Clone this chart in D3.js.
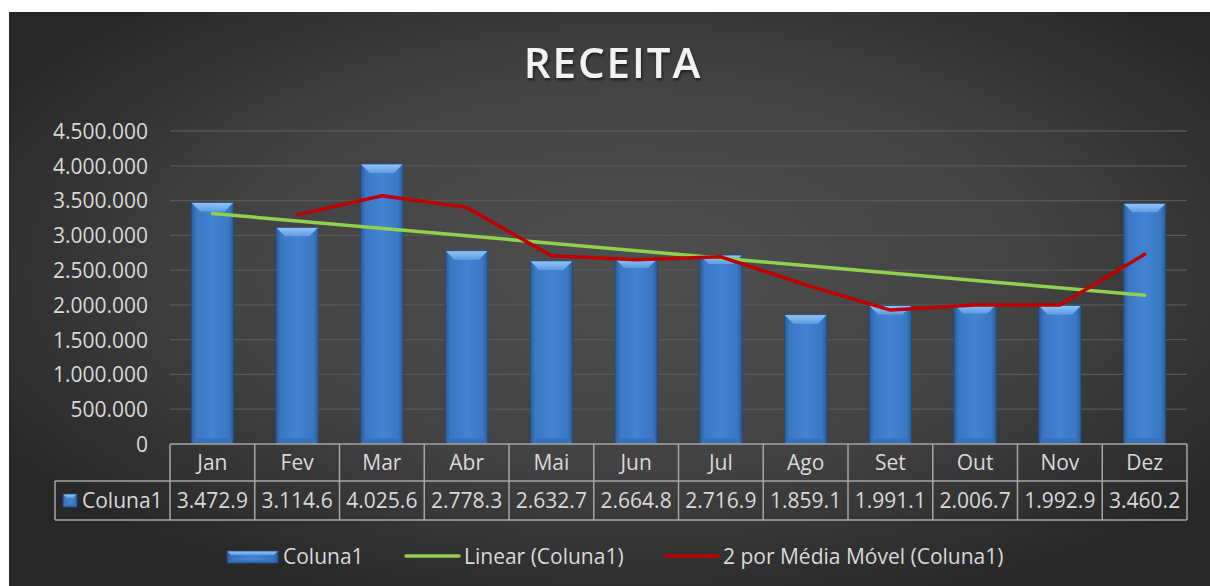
<!DOCTYPE html>
<html><head><meta charset="utf-8">
<script src="https://cdn.jsdelivr.net/npm/d3@7"></script>
<style>html,body{margin:0;padding:0;background:#fff;}svg{display:block;}</style>
</head><body>
<svg id="chart" width="1210" height="586"></svg>
<script>
// ---- data ----
const months = ["Jan","Fev","Mar","Abr","Mai","Jun","Jul","Ago","Set","Out","Nov","Dez"];
const values = [3472900, 3114600, 4025600, 2778300, 2632700, 2664800, 2716900, 1859100, 1991100, 2006700, 1992900, 3460200];
const tableLabels = ["3.472.9","3.114.6","4.025.6","2.778.3","2.632.7","2.664.8","2.716.9","1.859.1","1.991.1","2.006.7","1.992.9","3.460.2"];
const maMonths = ["Fev","Mar","Abr","Mai","Jun","Jul","Ago","Set","Out","Nov","Dez"];
const maValues = [3293750, 3570100, 3401950, 2705500, 2648750, 2690850, 2288000, 1925100, 1998900, 1999800, 2726550];
const trendMonths = ["Jan","Dez"];
const trendValues = [3314000, 2138000];
const yTicks = [0, 500000, 1000000, 1500000, 2000000, 2500000, 3000000, 3500000, 4000000, 4500000];
const title = "RECEITA";
const seriesName = "Coluna1";
const legendNames = ["Coluna1", "Linear (Coluna1)", "2 por Média Móvel (Coluna1)"];

(function(){
// ---- layout ----
const svg = d3.select("#chart");
const FONT = "'Open Sans', 'Segoe UI', sans-serif";
const textCol = "#d9d9d9";
const pL = 170, pR = 1187, pT = 131, pB = 444;
const rowMid = 481, rowBot = 520, tableLeft = 55;

const defs = svg.append("defs");
const bg = defs.append("radialGradient").attr("id","bg")
  .attr("cx","52%").attr("cy","45%").attr("r","62%");
bg.append("stop").attr("offset","0%").attr("stop-color","#4f4f4f");
bg.append("stop").attr("offset","55%").attr("stop-color","#424242");
bg.append("stop").attr("offset","100%").attr("stop-color","#272727");

const barG = defs.append("linearGradient").attr("id","barBody").attr("x1","0").attr("x2","1").attr("y1","0").attr("y2","0");
[["0%","#2b5a98"],["12%","#3b78c4"],["50%","#4283d2"],["88%","#3b78c4"],["100%","#2b5a98"]]
  .forEach(([o,c])=>barG.append("stop").attr("offset",o).attr("stop-color",c));
const topG = defs.append("linearGradient").attr("id","barTop").attr("x1","0").attr("x2","0").attr("y1","0").attr("y2","1");
topG.append("stop").attr("offset","0%").attr("stop-color","#94c6f6");
topG.append("stop").attr("offset","100%").attr("stop-color","#5c9de2");

const shadow = defs.append("filter").attr("id","tshadow").attr("x","-10%").attr("y","-10%").attr("width","120%").attr("height","140%");
shadow.append("feDropShadow").attr("dx","1").attr("dy","2").attr("stdDeviation","1.5").attr("flood-color","#000").attr("flood-opacity","0.6");

svg.append("rect").attr("x",9).attr("y",12).attr("width",1201).attr("height",574).attr("fill","url(#bg)");

const x = d3.scaleBand().domain(months).range([pL, pR]).paddingInner(0.5).paddingOuter(0.25);
const xc = m => x(m) + x.bandwidth()/2;
const y = d3.scaleLinear().domain([0, 4500000]).range([pB, pT]);

// title
svg.append("text").attr("x", 613).attr("y", 78).attr("text-anchor","middle")
  .attr("font-family", FONT).attr("font-size", 42).attr("font-weight", 600)
  .attr("letter-spacing", 2).attr("fill","#f2f2f2").attr("filter","url(#tshadow)").text(title);

// gridlines
svg.append("g").selectAll("line").data(yTicks.filter(d=>d>0)).join("line")
  .attr("x1", pL).attr("x2", pR).attr("y1", d=>y(d)).attr("y2", d=>y(d))
  .attr("stroke","#575757").attr("stroke-width",1.3);

// y axis via d3 axis
const fmt = v => d3.format(",")(v).replace(/,/g, ".");
const yAxis = svg.append("g").attr("transform", `translate(${pL - 22},0)`)
  .call(d3.axisLeft(y).tickValues(yTicks).tickFormat(fmt).tickSize(0).tickPadding(0));
yAxis.select(".domain").remove();
yAxis.selectAll("text").attr("font-family", FONT).attr("font-size", 21).attr("fill", textCol).attr("dy","0.35em");

// bars
function drawBar(g, bx, by, bw, bh, b) {
  g.append("rect").attr("x",bx).attr("y",by).attr("width",bw).attr("height",bh).attr("fill","url(#barBody)");
  const bb = Math.min(b, bh/2);
  g.append("path").attr("d", `M${bx},${by}L${bx+bw},${by}L${bx+bw-bb},${by+bb}L${bx+bb},${by+bb}Z`).attr("fill","url(#barTop)");
  g.append("path").attr("d", `M${bx},${by+bh}L${bx+bw},${by+bh}L${bx+bw-bb*0.6},${by+bh-bb*0.6}L${bx+bb*0.6},${by+bh-bb*0.6}Z`).attr("fill","#3670b8");
  g.append("rect").attr("x",bx).attr("y",by).attr("width",bw).attr("height",bh).attr("fill","none").attr("stroke","#24497c").attr("stroke-width",0.8);
}
const bars = svg.append("g");
months.forEach((m,i)=>{
  const g = bars.append("g");
  drawBar(g, x(m), y(values[i]), x.bandwidth(), y(0)-y(values[i]), 9);
});

// trend line
svg.append("path").datum(trendMonths.map((m,i)=>[xc(m), y(trendValues[i])]))
  .attr("d", d3.line()).attr("fill","none").attr("stroke","#92d050").attr("stroke-width",3.5).attr("stroke-linecap","round");
// moving average
svg.append("path").datum(maMonths.map((m,i)=>[xc(m), y(maValues[i])]))
  .attr("d", d3.line()).attr("fill","none").attr("stroke","#c00000").attr("stroke-width",3.5)
  .attr("stroke-linecap","round").attr("stroke-linejoin","round");

// data table
const tbl = svg.append("g");
const lc = "#a6a6a6";
const colEdges = months.map(m => x(m) - x.step()*x.paddingInner()/2).concat([pR]);
colEdges[0] = pL;
tbl.append("line").attr("x1",pL).attr("x2",pR).attr("y1",pB).attr("y2",pB).attr("stroke",lc).attr("stroke-width",1.5);
[rowMid,rowBot].forEach(yy=>tbl.append("line").attr("x1",tableLeft).attr("x2",pR).attr("y1",yy).attr("y2",yy).attr("stroke",lc).attr("stroke-width",1.5));
colEdges.forEach(xx=>tbl.append("line").attr("x1",xx).attr("x2",xx).attr("y1",pB).attr("y2",rowBot).attr("stroke",lc).attr("stroke-width",1.5));
tbl.append("line").attr("x1",tableLeft).attr("x2",tableLeft).attr("y1",rowMid).attr("y2",rowBot).attr("stroke",lc).attr("stroke-width",1.5);

tbl.selectAll("text.m").data(months).join("text").attr("class","m")
  .attr("x", d=>xc(d)).attr("y", (pB+rowMid)/2).attr("dy","0.35em").attr("text-anchor","middle")
  .attr("font-family",FONT).attr("font-size",21).attr("fill",textCol).text(d=>d);
tbl.selectAll("text.v").data(months).join("text").attr("class","v")
  .attr("x", d=>xc(d)).attr("y", (rowMid+rowBot)/2).attr("dy","0.35em").attr("text-anchor","middle")
  .attr("font-family",FONT).attr("font-size",21).attr("fill",textCol).text((d,i)=>tableLabels[i]);
// table legend key
drawBar(tbl.append("g"), 63, 494, 14, 13, 4);
tbl.append("text").attr("x",82).attr("y",(rowMid+rowBot)/2).attr("dy","0.35em")
  .attr("font-family",FONT).attr("font-size",21).attr("fill",textCol).text(seriesName);

// legend
const lg = svg.append("g");
drawBar(lg.append("g"), 227, 551, 51, 12, 4);
lg.append("text").attr("x",283).attr("y",557).attr("dy","0.35em").attr("font-family",FONT).attr("font-size",21).attr("fill",textCol).text(legendNames[0]);
lg.append("line").attr("x1",406).attr("x2",459).attr("y1",556).attr("y2",556).attr("stroke","#92d050").attr("stroke-width",3.5).attr("stroke-linecap","round");
lg.append("text").attr("x",464).attr("y",557).attr("dy","0.35em").attr("font-family",FONT).attr("font-size",21).attr("fill",textCol).text(legendNames[1]);
lg.append("line").attr("x1",666).attr("x2",718).attr("y1",556).attr("y2",556).attr("stroke","#c00000").attr("stroke-width",3.5).attr("stroke-linecap","round");
lg.append("text").attr("x",723).attr("y",557).attr("dy","0.35em").attr("font-family",FONT).attr("font-size",21).attr("fill",textCol).text(legendNames[2]);
})();
</script>
</body></html>
